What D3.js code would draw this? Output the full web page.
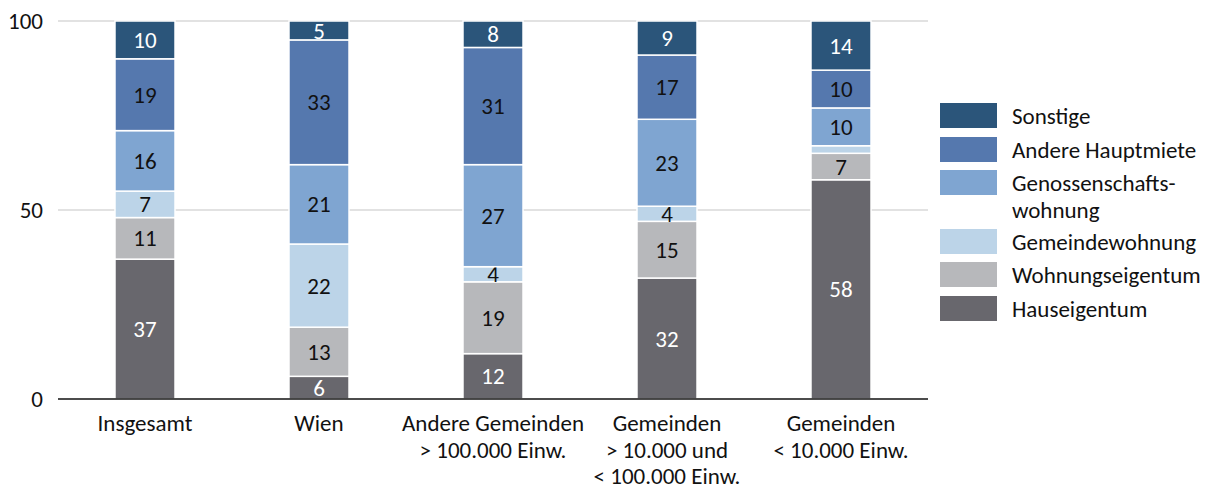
<!DOCTYPE html>
<html>
<head>
<meta charset="utf-8">
<script src="https://cdn.jsdelivr.net/npm/d3@7"></script>
<style>
  body { margin: 0; background: #fff; }
  svg { font-family: Carlito, Calibri, Lato, "Open Sans", sans-serif; }
</style>
</head>
<body>
<svg id="chart" width="1217" height="491"></svg>
<script>
// categories (x labels, split into lines)
var categories = [
	["Insgesamt"],
	["Wien"],
	["Andere Gemeinden", "> 100.000 Einw."],
	["Gemeinden", "> 10.000 und", "< 100.000 Einw."],
	["Gemeinden", "< 10.000 Einw."]
];

// series, bottom to top
var seriesNames = ["Hauseigentum", "Wohnungseigentum", "Gemeindewohnung", "Genossenschaftswohnung", "Andere Hauptmiete", "Sonstige"];
var hauseigentum = [37, 6, 12, 32, 58];
var wohnungseigentum = [11, 13, 19, 15, 7];
var gemeindewohnung = [7, 22, 4, 4, 2];
var genossenschaft = [16, 21, 27, 23, 10];
var andereHauptmiete = [19, 33, 31, 17, 10];
var sonstige = [10, 5, 8, 9, 14];

var yTicks = [0, 50, 100];

var colors = ["#68676d", "#b7b8bb", "#bcd4e8", "#7fa5d1", "#5578ae", "#2b557a"];
var textColors = ["#fff", "#111", "#111", "#111", "#111", "#fff"];

var fs = 23;

var svg = d3.select("#chart");
var margin = {left: 58, right: 289, top: 21, bottom: 92};
var w = 1217 - margin.left - margin.right,
	h = 491 - margin.top - margin.bottom;

var g = svg.append("g").attr("transform", "translate(" + margin.left + "," + margin.top + ")");

var x = d3.scaleBand().domain(d3.range(categories.length)).range([0, w]).paddingInner(0.655).paddingOuter(0.3275);
var y = d3.scaleLinear().domain([0, 100]).range([h, 0]).clamp(true);

// gridlines
g.selectAll("line.grid")
	.data(yTicks.filter(function(d) { return d > 0; }))
	.enter().append("line")
	.attr("x1", 0).attr("x2", w)
	.attr("y1", function(d) { return y(d); })
	.attr("y2", function(d) { return y(d); })
	.attr("stroke", "#d9d9d9")
	.attr("stroke-width", 1.5);

// y tick labels
g.selectAll("text.ytick")
	.data(yTicks)
	.enter().append("text")
	.attr("x", -15)
	.attr("y", function(d) { return y(d); })
	.attr("dy", "0.35em")
	.attr("text-anchor", "end")
	.attr("font-size", fs)
	.attr("fill", "#111")
	.text(function(d) { return d; });

// stack the data
var rows = categories.map(function(c, i) {
	return [hauseigentum[i], wohnungseigentum[i], gemeindewohnung[i], genossenschaft[i], andereHauptmiete[i], sonstige[i]];
});
var stacked = d3.stack().keys(d3.range(seriesNames.length))(rows);

var layers = g.selectAll("g.layer")
	.data(stacked)
	.enter().append("g")
	.attr("class", "layer");

layers.selectAll("rect")
	.data(function(d) { return d; })
	.enter().append("rect")
	.attr("x", function(d, i) { return x(i); })
	.attr("width", x.bandwidth())
	.attr("y", function(d) { return y(d[1]); })
	.attr("height", function(d) { return y(d[0]) - y(d[1]); })
	.attr("fill", function(d) { return colors[d3.select(this.parentNode).datum().key]; })
	.attr("stroke", "#fff")
	.attr("stroke-width", 1.5);

layers.selectAll("text")
	.data(function(d) { return d.map(function(p, i) { return {p: p, key: d.key, i: i}; }); })
	.enter().append("text")
	.filter(function(d) { return d.p[1] - d.p[0] >= 3; })
	.attr("x", function(d) { return x(d.i) + x.bandwidth() / 2; })
	.attr("y", function(d) { return (y(d.p[0]) + y(d.p[1])) / 2; })
	.attr("dy", "0.35em")
	.attr("text-anchor", "middle")
	.attr("font-size", fs)
	.attr("fill", function(d) { return textColors[d.key]; })
	.text(function(d) { return d.p[1] - d.p[0]; });

// x axis line
g.append("line")
	.attr("x1", 0).attr("x2", w)
	.attr("y1", h).attr("y2", h)
	.attr("stroke", "#111")
	.attr("stroke-width", 1.5);

// x labels
var xl = g.selectAll("text.xlab")
	.data(categories)
	.enter().append("text")
	.attr("text-anchor", "middle")
	.attr("font-size", fs)
	.attr("fill", "#111")
	.attr("transform", function(d, i) { return "translate(" + (x(i) + x.bandwidth() / 2) + "," + (h + 32) + ")"; });
xl.selectAll("tspan")
	.data(function(d) { return d; })
	.enter().append("tspan")
	.attr("x", 0)
	.attr("y", function(d, i) { return i * 26.5; })
	.text(function(d) { return d; });

// legend
var legendItems = [
	{key: 5, lines: ["Sonstige"]},
	{key: 4, lines: ["Andere Hauptmiete"]},
	{key: 3, lines: ["Genossenschafts-", "wohnung"]},
	{key: 2, lines: ["Gemeindewohnung"]},
	{key: 1, lines: ["Wohnungseigentum"]},
	{key: 0, lines: ["Hauseigentum"]}
];
var legendY = [103, 137, 170, 229, 262, 296];
var legend = svg.append("g").attr("transform", "translate(940,0)");
var li = legend.selectAll("g")
	.data(legendItems)
	.enter().append("g")
	.attr("transform", function(d, i) { return "translate(0," + legendY[i] + ")"; });
li.append("rect")
	.attr("width", 57).attr("height", 25)
	.attr("fill", function(d) { return colors[d.key]; });
li.append("text")
	.attr("font-size", fs)
	.attr("fill", "#111")
	.selectAll("tspan")
	.data(function(d) { return d.lines; })
	.enter().append("tspan")
	.attr("x", 72)
	.attr("y", function(d, i) { return 13 + i * 27; })
	.attr("dy", "0.35em")
	.text(function(d) { return d; });
</script>
</body>
</html>
